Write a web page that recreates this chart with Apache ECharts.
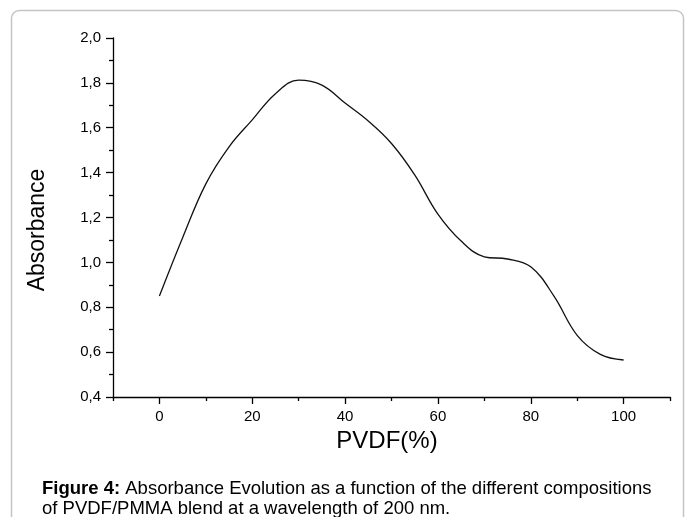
<!DOCTYPE html>
<html>
<head>
<meta charset="utf-8">
<script src="https://cdn.jsdelivr.net/npm/echarts@6/dist/echarts.min.js"></script>
<style>
  html, body { margin: 0; padding: 0; background: #fff; }
  #chart { width: 685px; height: 517px; }
</style>
</head>
<body>
<div id="chart"></div>
<script>
// PVDF content (%) and absorbance
var pvdf = [0, 5, 10, 15, 20, 25, 30, 35, 40, 45, 50, 55, 60, 65, 70, 75, 80, 85, 90, 95, 100];
var absorbance = [0.85, 1.11, 1.35, 1.515, 1.635, 1.752, 1.812, 1.79, 1.71, 1.63, 1.53, 1.39, 1.215, 1.095, 1.025, 1.015, 0.98, 0.85, 0.675, 0.59, 0.565];
var xMajorTicks = [0, 20, 40, 60, 80, 100];
var xMinorTicks = [-10, 10, 30, 50, 70, 90, 110];

var font = 'Arial, "Liberation Sans", sans-serif';

var option = {
    animation: false,
    backgroundColor: '#fff',
    grid: {
        left: 113,
        top: 38,
        right: 15,
        bottom: 120
    },
    xAxis: [
        {
            type: 'value',
            min: -10,
            max: 110,
            axisLine: { onZero: false, lineStyle: { color: '#000', width: 1.3 } },
            axisTick: { show: true, customValues: xMajorTicks, length: 7, lineStyle: { color: '#000', width: 1.3 } },
            axisLabel: { customValues: xMajorTicks, color: '#000', fontSize: 15, fontFamily: font, margin: 12 },
            splitLine: { show: false }
        },
        {
            type: 'value',
            min: -10,
            max: 110,
            position: 'bottom',
            axisLine: { show: false, onZero: false },
            axisTick: { show: true, customValues: xMinorTicks, length: 4, lineStyle: { color: '#000', width: 1.3 } },
            axisLabel: { show: false },
            splitLine: { show: false }
        }
    ],
    yAxis: {
        type: 'value',
        min: 0.4,
        max: 2.0,
        interval: 0.2,
        axisLine: { show: true, onZero: false, lineStyle: { color: '#000', width: 1.3 } },
        axisTick: { show: true, length: 7, lineStyle: { color: '#000', width: 1.3 } },
        minorTick: { show: true, splitNumber: 2, length: 4, lineStyle: { color: '#000', width: 1.3 } },
        axisLabel: {
            color: '#000',
            fontSize: 15,
            fontFamily: font,
            margin: 12,
            formatter: function (v) { return v.toFixed(1).replace('.', ','); }
        },
        splitLine: { show: false }
    },
    series: [
        {
            type: 'line',
            xAxisIndex: 0,
            smooth: 0.4,
            symbol: 'none',
            lineStyle: { color: '#111', width: 1.3 },
            data: pvdf.map(function (x, i) { return [x, absorbance[i]]; })
        }
    ],
    graphic: [
        {
            type: 'rect',
            shape: { x: 11.5, y: 10.5, width: 672, height: 540, r: 8 },
            style: { fill: 'none', stroke: '#c4c4c4', lineWidth: 1.5 },
            silent: true
        },
        {
            type: 'text',
            x: 387,
            y: 441,
            style: {
                text: 'PVDF(%)',
                fontSize: 24,
                fontFamily: font,
                fill: '#000',
                align: 'center',
                verticalAlign: 'middle'
            }
        },
        {
            type: 'text',
            x: 38,
            y: 230,
            rotation: Math.PI / 2,
            style: {
                text: 'Absorbance',
                fontSize: 23,
                fontFamily: font,
                fill: '#000',
                align: 'center',
                verticalAlign: 'middle'
            }
        },
        {
            type: 'text',
            left: 42,
            top: 479,
            style: {
                text: '{b|Figure 4:} Absorbance Evolution as a function of the different compositions\nof PVDF/PMMA blend at a wavelength of 200 nm.',
                rich: {
                    b: { fontWeight: 'bold', fontSize: 18.5, fontFamily: font, fill: '#000' }
                },
                fontSize: 18.5,
                fontFamily: font,
                lineHeight: 20,
                fill: '#000'
            }
        }
    ]
};

var chart = echarts.init(document.getElementById('chart'));
chart.setOption(option);
</script>
</body>
</html>
